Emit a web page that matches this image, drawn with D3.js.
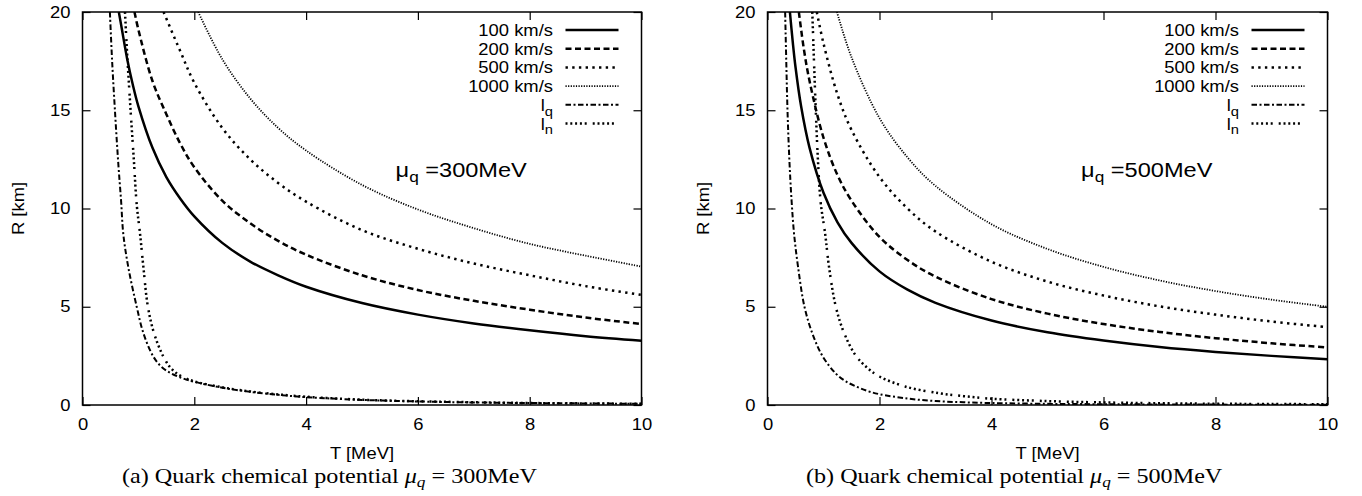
<!DOCTYPE html>
<html>
<head>
<meta charset="utf-8">
<script src="https://cdn.jsdelivr.net/npm/d3@7"></script>
<style>
  html, body { margin: 0; padding: 0; background: #fff; }
  svg { display: block; }
  text { fill: #000; }
</style>
</head>
<body>
<svg id="chart" width="1362" height="496"></svg>
<script>
// ---- data: radius R [km] versus temperature T [MeV], pairs of [T, R] ----
const xTicks = [0, 2, 4, 6, 8, 10];
const yTicks = [0, 5, 10, 15, 20];

// panel (a): mu_q = 300 MeV
const a100 = [[0.65,20],[0.7,19.2],[0.8,17.6],[0.9,16.3],[1.0,15.2],[1.25,13.1],[1.5,11.6],[1.75,10.5],[2,9.6],[2.5,8.25],[3,7.3],[3.5,6.6],[4,6.02],[5,5.19],[6,4.6],[7,4.15],[8,3.8],[9,3.5],[10,3.27]];
const a200 = [[0.93,20],[1.0,19.1],[1.25,16.5],[1.5,14.8],[1.75,13.3],[2,12.1],[2.5,10.4],[3,9.25],[3.5,8.35],[4,7.65],[5,6.6],[6,5.85],[7,5.3],[8,4.85],[9,4.45],[10,4.12]];
const a500 = [[1.45,20],[1.75,18.0],[2,16.4],[2.5,14.1],[3,12.5],[3.5,11.3],[4,10.35],[5,8.9],[6,7.95],[7,7.2],[8,6.6],[9,6.05],[10,5.6]];
const a1000 = [[2.07,20],[2.5,17.6],[3,15.6],[3.5,14.1],[4,12.95],[5,11.2],[6,9.95],[7,9.0],[8,8.2],[9,7.6],[10,7.04]];
const aLq = [[0.49,20],[0.53,17.5],[0.58,15],[0.64,12.3],[0.69,10.4],[0.73,8.7],[0.82,7.0],[0.97,5.0],[1.09,3.65],[1.26,2.5],[1.41,1.95],[1.59,1.6],[1.8,1.35],[2.0,1.18],[2.5,0.88],[3,0.67],[3.5,0.52],[4,0.4],[5,0.26],[6,0.18],[7,0.13],[8,0.1],[9,0.08],[10,0.06]];
const aLn = [[0.76,20],[0.8,17.8],[0.86,15],[0.92,12.4],[0.97,10.2],[1.03,8.7],[1.09,7.0],[1.17,5.0],[1.28,3.65],[1.44,2.5],[1.56,1.95],[1.7,1.58],[1.85,1.36],[2.0,1.2],[2.5,0.9],[3,0.69],[3.5,0.54],[4,0.42],[5,0.27],[6,0.19],[7,0.14],[8,0.1],[9,0.08],[10,0.06]];

// panel (b): mu_q = 500 MeV
const b100 = [[0.40,20],[0.45,18.5],[0.5,17.2],[0.6,15.2],[0.75,13.1],[1.0,10.8],[1.25,9.3],[1.5,8.25],[2,6.8],[2.5,5.87],[3,5.2],[4,4.3],[5,3.7],[6,3.28],[7,2.95],[8,2.7],[9,2.5],[10,2.33]];
const b200 = [[0.56,20],[0.65,18.1],[0.75,16.5],[1.0,13.6],[1.25,11.7],[1.5,10.4],[2,8.55],[2.5,7.38],[3,6.53],[4,5.39],[5,4.65],[6,4.12],[7,3.72],[8,3.4],[9,3.14],[10,2.93]];
const b500 = [[0.88,20],[1.0,18.4],[1.25,15.8],[1.5,14.0],[2,11.6],[2.5,10.0],[3,8.83],[4,7.29],[5,6.28],[6,5.57],[7,5.02],[8,4.6],[9,4.25],[10,3.96]];
const b1000 = [[1.24,20],[1.5,17.7],[2,14.6],[2.5,12.6],[3,11.15],[4,9.2],[5,7.94],[6,7.03],[7,6.34],[8,5.8],[9,5.36],[10,5.0]];
const bLq = [[0.315,20],[0.335,17.5],[0.357,15],[0.39,12.5],[0.43,10.4],[0.475,8.7],[0.547,7.0],[0.66,5.0],[0.8,3.65],[0.98,2.5],[1.22,1.6],[1.4,1.2],[1.6,0.92],[1.8,0.7],[2.0,0.55],[2.5,0.33],[3,0.2],[3.5,0.14],[4,0.1],[5,0.06],[6,0.04],[8,0.02],[10,0.01]];
const bLn = [[0.80,20],[0.83,17.5],[0.862,15],[0.9,12.5],[0.95,10.3],[1.03,8.7],[1.1,7.0],[1.22,5.0],[1.37,3.65],[1.58,2.5],[1.8,1.85],[2.0,1.45],[2.47,0.93],[3.06,0.6],[3.5,0.45],[4,0.32],[5,0.2],[6,0.13],[7,0.09],[8,0.065],[9,0.05],[10,0.04]];

const seriesNames = ["100 km/s", "200 km/s", "500 km/s", "1000 km/s", "l_q", "l_n"];

// line styles, one per series (same order as seriesNames)
const styles = [
  { width: 2.5, dash: null },
  { width: 2.5, dash: "6,3.5" },
  { width: 2.5, dash: "2.4,4.3" },
  { width: 1.8, dash: "1.2,1.4" },
  { width: 2.0, dash: "5.5,2.5,2,2.5" },
  { width: 2.5, dash: "2,2.8,2,2.8,2,2.8,2,2.8,2,6" }
];

const panels = [
  { id: "a", left: 82.5, right: 641.5, mu: "300", series: [a100, a200, a500, a1000, aLq, aLn], capX: 122 },
  { id: "b", left: 767.5, right: 1327.5, mu: "500", series: [b100, b200, b500, b1000, bLq, bLn], capX: 806 }
];

const TOP = 12, BOTTOM = 405;
const SX = 1.15;                 // glyphs are set slightly wide
const SANS = "'Liberation Sans', Arial, Helvetica, sans-serif";
const SERIF = "'Liberation Serif', 'Times New Roman', Times, serif";

const svg = d3.select("#chart");

// text helper: places a label and stretches it along its baseline
function label(parent, x, y, opts) {
  const g = parent.append("g")
    .attr("transform", `translate(${x},${y})` + (opts.rotate ? ` rotate(${opts.rotate})` : "") + ` scale(${SX},1)`);
  const t = g.append("text")
    .attr("font-family", opts.family || SANS)
    .attr("font-size", opts.size || 16)
    .attr("text-anchor", opts.anchor || "start");
  return t;
}

// parts like "l_q" → main + subscript
function withSub(t, str, size) {
  const parts = str.split("_");
  t.append("tspan").text(parts[0]);
  if (parts.length > 1) {
    t.append("tspan").attr("font-size", size * 0.8).attr("dy", size * 0.3).text(parts[1]);
  }
}

panels.forEach((p) => {
  const x = d3.scaleLinear().domain([0, 10]).range([p.left, p.right]);
  const y = d3.scaleLinear().domain([0, 20]).range([BOTTOM, TOP]);
  const g = svg.append("g").attr("class", "panel-" + p.id);

  const clipId = "clip-" + p.id;
  g.append("clipPath").attr("id", clipId)
    .append("rect").attr("x", p.left).attr("y", TOP)
    .attr("width", p.right - p.left).attr("height", BOTTOM - TOP);

  // axes with inward ticks on all four sides
  const axB = g.append("g").attr("transform", `translate(0,${BOTTOM})`)
    .call(d3.axisBottom(x).tickValues(xTicks).tickFormat(d3.format("d")).tickSize(-8).tickPadding(14));
  const axL = g.append("g").attr("transform", `translate(${p.left},0)`)
    .call(d3.axisLeft(y).tickValues(yTicks).tickFormat(d3.format("d")).tickSize(-8).tickPadding(10.5));
  const axT = g.append("g").attr("transform", `translate(0,${TOP})`)
    .call(d3.axisTop(x).tickValues(xTicks).tickFormat("").tickSize(-8));
  const axR = g.append("g").attr("transform", `translate(${p.right},0)`)
    .call(d3.axisRight(y).tickValues(yTicks).tickFormat("").tickSize(-8));
  [axB, axL, axT, axR].forEach(a => {
    a.select(".domain").remove();
    a.selectAll(".tick line").attr("stroke", "#000").attr("stroke-width", 1.2);
    a.selectAll(".tick text")
      .attr("font-family", SANS).attr("font-size", 16).attr("fill", "#000")
      .attr("transform", `scale(${SX},1)`);
  });
  axB.selectAll(".tick text").attr("dy", "0.71em");

  // curves
  const line = d3.line().x(d => x(d[0])).y(d => y(d[1])).curve(d3.curveCatmullRom.alpha(0.5));
  const curves = g.append("g").attr("clip-path", `url(#${clipId})`);
  p.series.forEach((s, i) => {
    curves.append("path").datum(s)
      .attr("d", line)
      .attr("fill", "none")
      .attr("stroke", "#000")
      .attr("stroke-width", styles[i].width)
      .attr("stroke-dasharray", styles[i].dash)
      .attr("stroke-linejoin", "round");
  });

  // border
  g.append("rect")
    .attr("x", p.left).attr("y", TOP)
    .attr("width", p.right - p.left).attr("height", BOTTOM - TOP)
    .attr("fill", "none").attr("stroke", "#000").attr("stroke-width", 1.5);

  // legend
  seriesNames.forEach((name, i) => {
    const base = 36 + i * 18.7;
    const t = label(g, p.right - 88.5, base, { anchor: "end", size: 16 });
    withSub(t, name, 16);
    g.append("line")
      .attr("x1", p.right - 76).attr("x2", p.right - 23)
      .attr("y1", base - 6).attr("y2", base - 6)
      .attr("stroke", "#000")
      .attr("stroke-width", styles[i].width)
      .attr("stroke-dasharray", styles[i].dash);
  });

  // chemical potential annotation
  const mu = label(g, x(5.6), 176.7, { size: 20.5 });
  mu.append("tspan").text("μ");
  mu.append("tspan").attr("font-size", 15).attr("dy", 5).text("q");
  mu.append("tspan").attr("dy", -5).text(" =" + p.mu + "MeV");

  // axis titles
  label(g, (p.left + p.right) / 2, 459, { anchor: "middle", size: 16 }).text("T [MeV]");
  label(g, p.left - 58.5, (TOP + BOTTOM) / 2, { anchor: "middle", size: 16, rotate: -90 }).text("R [km]");

  // caption
  const cap = label(g, p.capX, 483, { family: SERIF, size: 21 });
  cap.append("tspan").text("(" + p.id + ")  Quark chemical potential ");
  cap.append("tspan").attr("font-style", "italic").text("μ");
  cap.append("tspan").attr("font-style", "italic").attr("font-size", 15).attr("dy", 4).text("q");
  cap.append("tspan").attr("dy", -4).text(" = " + p.mu + "MeV");
});
</script>
</body>
</html>
